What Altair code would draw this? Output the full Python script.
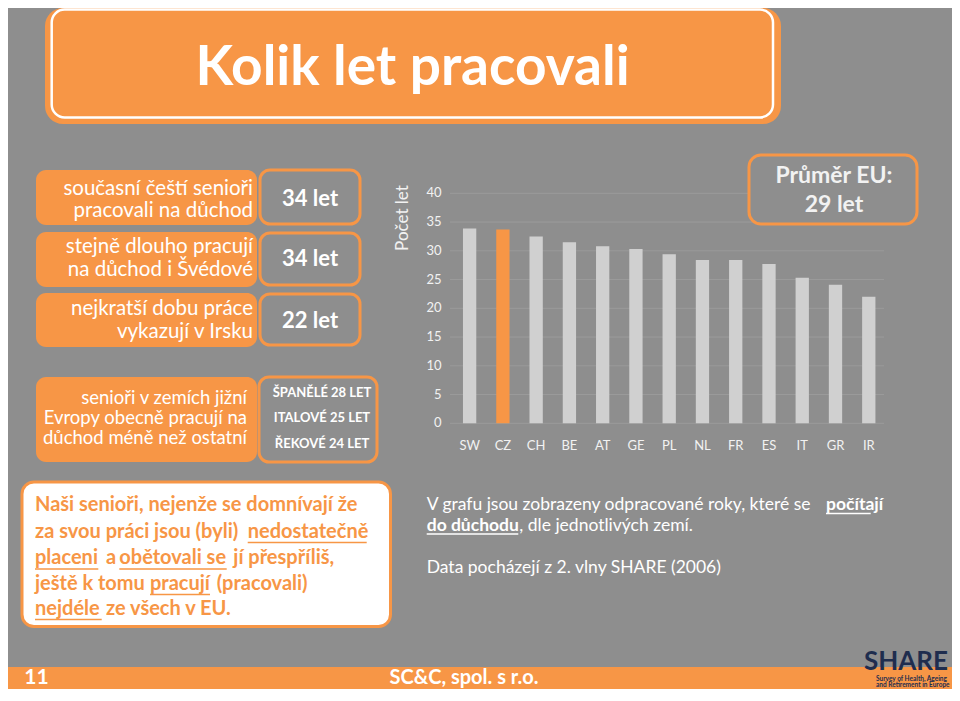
import altair as alt
import pandas as pd

# ---------------- data ----------------
countries = ["SW", "CZ", "CH", "BE", "AT", "GE", "PL", "NL", "FR", "ES", "IT", "GR", "IR"]
years = [33.9, 33.7, 32.5, 31.5, 30.8, 30.3, 29.4, 28.4, 28.4, 27.7, 25.3, 24.1, 22.0]
highlight = "CZ"
tick_values = [0, 5, 10, 15, 20, 25, 30, 35, 40]
y_title = "Počet let"

title_text = "Kolik let pracovali"
left_labels = [
    ["současní čeští senioři", "pracovali na důchod"],
    ["stejně dlouho pracují", "na důchod i Švédové"],
    ["nejkratší dobu práce", "vykazují v Irsku"],
]
left_values = ["34 let", "34 let", "22 let"]
south_lines = ["senioři v zemích jižní", "Evropy obecně pracují na", "důchod méně než ostatní"]
south_values = ["ŠPANĚLÉ 28 LET", "ITALOVÉ 25 LET", "ŘEKOVÉ 24 LET"]
avg_lines = ["Průměr EU:", "29 let"]

# ---------------- style ----------------
BG = "#8e8e8e"
ORANGE = "#f79646"
BAR = "#d0d0d0"
GRID = "#9b9b9b"
LIGHT = "#f2f2f2"
NAVY = "#1f2d4e"
FONT = "Lato"

W, H = 944, 681
OFF = 8


def P(v):
    return v - OFF


one = pd.DataFrame({"k": [0]})
layers = []


def box(x0, x1, y0, y1, fill, stroke=None, sw=0, r=0):
    kw = dict(cornerRadius=r, fill=fill)
    if stroke:
        kw.update(stroke=stroke, strokeWidth=sw)
    return alt.Chart(one).mark_rect(**kw).encode(
        x=alt.value(P(x0)), x2=alt.value(P(x1)),
        y=alt.value(max(P(y0), 0 if not stroke else 1.5)), y2=alt.value(P(y1)))


def txt(x, y, s, size, color, weight="normal", align="left", baseline="middle", angle=0):
    kw = dict(text=s, fontSize=size, color=color, fontWeight=weight, align=align,
              baseline=baseline, font=FONT)
    if angle:
        kw["angle"] = angle
    return alt.Chart(one).mark_text(**kw).encode(x=alt.value(P(x)), y=alt.value(P(y)))


def uline(x0, x1, y, color, w=1.5):
    return alt.Chart(one).mark_rule(color=color, strokeWidth=w).encode(
        x=alt.value(P(x0)), x2=alt.value(P(x1)), y=alt.value(P(y)))


# ---------------- title ----------------
layers.append(box(45, 781, 0, 124, ORANGE, r=18))
layers.append(box(51.7, 773, 6, 117.5, ORANGE, stroke="white", sw=2.5, r=13))
layers.append(txt(412.5, 85, title_text, 55, "white", "bold", "center", "alphabetic"))

# ---------------- left panels ----------------
orange_rows = [(170, 225), (232, 287), (293, 347)]
gray_rows = [(170, 224), (233, 285), (294, 345)]
line_y = [(188.5, 210.5), (247, 270), (308.5, 331.5)]
value_y = [199, 259, 321]
for i in range(3):
    layers.append(box(36, 257, orange_rows[i][0], orange_rows[i][1], ORANGE, r=10))
    layers.append(box(260, 360, gray_rows[i][0], gray_rows[i][1], BG, stroke=ORANGE, sw=3, r=10))
    for j in range(2):
        layers.append(txt(253, line_y[i][j], left_labels[i][j], 20.5, "white", "normal", "right"))
    layers.append(txt(310, value_y[i], left_values[i], 22, "white", "bold", "center"))

layers.append(box(36, 257, 377, 462, ORANGE, r=10))
layers.append(box(259, 377, 377, 462, BG, stroke=ORANGE, sw=3, r=10))
for j, yy in enumerate([398.3, 418.3, 438.3]):
    layers.append(txt(247, yy, south_lines[j], 18.5, "white", "normal", "right"))
for j, yy in enumerate([393.3, 418.3, 444]):
    layers.append(txt(322, yy, south_values[j], 13, "white", "bold", "center"))

# ---------------- bar chart ----------------
xscale = alt.Scale(domain=countries, range=[P(450), P(888.4)], paddingInner=0.6, paddingOuter=0.39)
yscale = alt.Scale(domain=[0, 40], range=[P(423.3), P(193.3)])

tick_df = pd.DataFrame({"v": tick_values})
bar_df = pd.DataFrame({"country": countries, "years": years})

grid = alt.Chart(tick_df).mark_rule(color=GRID, strokeWidth=1).encode(
    y=alt.Y("v:Q", scale=yscale, axis=None),
    x=alt.value(P(450)), x2=alt.value(P(884)))
ticklab = alt.Chart(tick_df).mark_text(align="right", baseline="middle", fontSize=13,
                                        color=LIGHT, font=FONT).encode(
    y=alt.Y("v:Q", scale=yscale, axis=None), x=alt.value(P(441.5)), text="v:Q")
bars = alt.Chart(bar_df).mark_bar().encode(
    x=alt.X("country:N", scale=xscale, axis=None, sort=countries),
    y=alt.Y("years:Q", scale=yscale, axis=None),
    color=alt.condition(alt.datum.country == highlight, alt.value(ORANGE), alt.value(BAR)))
catlab = alt.Chart(bar_df).mark_text(align="center", baseline="middle", fontSize=13,
                                      color=LIGHT, font=FONT).encode(
    x=alt.X("country:N", scale=xscale, axis=None, sort=countries),
    y=alt.value(P(446)), text="country:N")
layers += [grid, bars, ticklab, catlab]
layers.append(txt(403, 218, y_title, 17, LIGHT, "normal", "center", "middle", angle=270))

# EU average box
layers.append(box(749, 917, 155, 224, BG, stroke=ORANGE, sw=3, r=12))
layers.append(txt(834, 176, avg_lines[0], 23, LIGHT, "bold", "center"))
layers.append(txt(834, 205, avg_lines[1], 23, LIGHT, "bold", "center"))

# ---------------- bottom white box ----------------
layers.append(box(22, 390.5, 482, 626.5, "white", stroke=ORANGE, sw=3, r=12))
runs = [
    ("Naši senioři, nejenže se domnívají že", 35, 505, None),
    ("za svou práci jsou (byli)", 35, 531.5, None),
    ("nedostatečně", 247.7, 531.5, 366.7),
    ("placeni", 35, 558, 98.3),
    ("a", 106, 558, None),
    ("obětovali se", 119.3, 558, 226.7),
    ("jí přespříliš,", 233.3, 558, None),
    ("ještě k tomu", 35, 583.5, None),
    ("pracují", 150, 583.5, 210),
    ("(pracovali)", 216.7, 583.5, None),
    ("nejdéle", 35, 608.5, 101.7),
    ("ze všech v EU.", 106, 608.5, None),
]
for s, x, y, ux in runs:
    layers.append(txt(x, y, s, 20, ORANGE, "bold", "left"))
    if ux:
        layers.append(uline(x, ux, y + 11, ORANGE))

# ---------------- right note ----------------
layers.append(txt(426.7, 504.7, "V grafu jsou zobrazeny odpracované roky, které se", 17.5, "white"))
layers.append(txt(826, 504.7, "počítají", 17.5, "white", "bold"))
layers.append(uline(826, 870.7, 513.5, "white"))
layers.append(txt(426.7, 525.7, "do důchodu", 17.5, "white", "bold"))
layers.append(uline(426.7, 518.3, 534, "white"))
layers.append(txt(519.3, 525.7, ", dle jednotlivých zemí.", 17.5, "white"))
layers.append(txt(426.7, 568, "Data pocházejí z 2. vlny SHARE (2006)", 17.5, "white"))

# ---------------- footer ----------------
layers.append(box(3, 990, 667, 720, ORANGE, r=6))
layers.append(txt(36.5, 678, "11", 21, "white", "bold", "center"))
layers.append(txt(464, 678, "SC&C, spol. s r.o.", 20, "white", "bold", "center"))
layers.append(txt(906, 662, "SHARE", 26, NAVY, "bold", "center"))
layers.append(txt(876, 679, "Survey of Health, Ageing", 6.5, NAVY, "bold", "left"))
layers.append(txt(876, 685, "and Retirement in Europe", 6.5, NAVY, "bold", "left"))

chart = alt.layer(*layers).properties(
    width=W, height=H, background=BG, padding=0,
    autosize=alt.AutoSizeParams(type="none")
).configure_view(strokeWidth=0)

chart.save("out.html", embed_options={"renderer": "svg", "actions": False})
